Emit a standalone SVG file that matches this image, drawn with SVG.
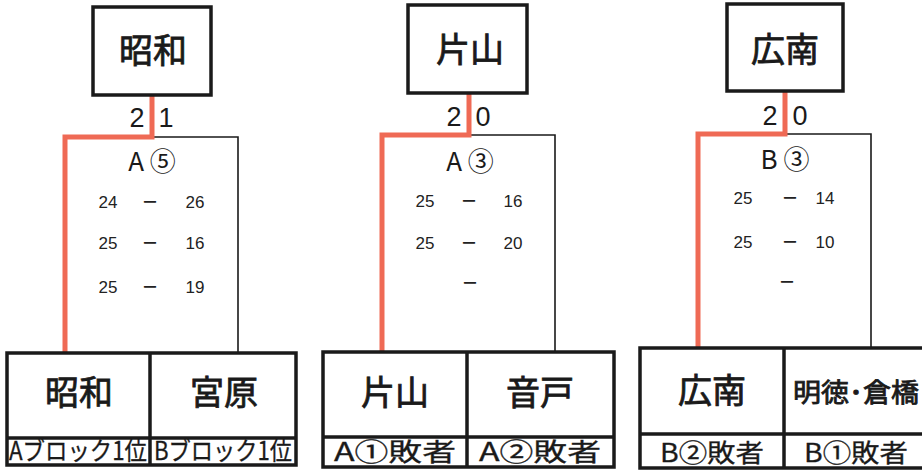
<svg xmlns="http://www.w3.org/2000/svg" width="922" height="473" viewBox="0 0 922 473">
<style>
.bg{fill:#ffffff}
.box{fill:none;stroke:#1a1a1a;stroke-width:3.5}
.thin{fill:none;stroke:#1a1a1a;stroke-width:1.6}
.red{fill:none;stroke:#ef6a55;stroke-width:5;stroke-linejoin:miter}
.name{font-family:"Noto Sans CJK JP","Noto Sans CJK SC",sans-serif;font-size:34px;fill:#1a1a1a;stroke:#1a1a1a;stroke-width:0.8;text-anchor:middle}
.sub{font-family:"Noto Sans CJK JP","Noto Sans CJK SC",sans-serif;font-size:25px;fill:#1a1a1a;stroke:#1a1a1a;stroke-width:0.3;text-anchor:middle}
.score{font-family:"Liberation Sans",Arial,sans-serif;font-size:27px;fill:#1a1a1a;text-anchor:middle}
.pool{font-family:"Noto Sans CJK JP","Noto Sans CJK SC",sans-serif;font-size:26px;fill:#1a1a1a;text-anchor:middle}
.set{font-family:"Liberation Sans",Arial,sans-serif;font-size:17px;fill:#222;text-anchor:middle}
.dash{font-family:"Noto Sans CJK JP",sans-serif;font-size:17px;font-weight:bold;fill:#222;text-anchor:middle}
</style>
<rect class="bg" x="0" y="0" width="922" height="473"/>

<g id="connectors">
  <path class="thin" d="M152,137 H238 V352"/>
  <path class="thin" d="M469,135 H555 V352"/>
  <path class="thin" d="M785,134 H871 V349"/>
  <path class="red" d="M152,95 V137 H65 V353"/>
  <path class="red" d="M469,93 V135 H382 V352"/>
  <path class="red" d="M785,91 V134 H698 V349"/>
</g>

<g id="winner-showa">
  <rect class="box" x="93" y="7" width="118" height="88"/>
  <text class="name" x="153" y="63">昭和</text>
</g>
<g id="winner-katayama">
  <rect class="box" x="408" y="5" width="119" height="88"/>
  <text class="name" x="470" y="62">片山</text>
</g>
<g id="winner-konan">
  <rect class="box" x="727" y="4" width="116" height="87"/>
  <text class="name" x="785" y="62">広南</text>
</g>

<g id="match-a5">
  <text class="score" x="137" y="127">2</text>
  <text class="score" x="166" y="127">1</text>
  <text class="pool" x="152" y="171">A ⑤</text>
  <text class="set" x="108" y="208">24</text><text class="dash" x="150" y="208">－</text><text class="set" x="195" y="208">26</text>
  <text class="set" x="108" y="249">25</text><text class="dash" x="150" y="249">－</text><text class="set" x="195" y="249">16</text>
  <text class="set" x="108" y="293">25</text><text class="dash" x="150" y="293">－</text><text class="set" x="195" y="293">19</text>
</g>
<g id="match-a3">
  <text class="score" x="454" y="126">2</text>
  <text class="score" x="483" y="126">0</text>
  <text class="pool" x="470" y="171">A ③</text>
  <text class="set" x="425" y="207">25</text><text class="dash" x="469" y="207">－</text><text class="set" x="513" y="207">16</text>
  <text class="set" x="425" y="249">25</text><text class="dash" x="469" y="249">－</text><text class="set" x="513" y="249">20</text>
  <text class="dash" x="470" y="289">－</text>
</g>
<g id="match-b3">
  <text class="score" x="770" y="125">2</text>
  <text class="score" x="800" y="125">0</text>
  <text class="pool" x="785" y="169">B ③</text>
  <text class="set" x="743" y="204">25</text><text class="dash" x="790" y="204">－</text><text class="set" x="825" y="204">14</text>
  <text class="set" x="743" y="248">25</text><text class="dash" x="790" y="248">－</text><text class="set" x="825" y="248">10</text>
  <text class="dash" x="787" y="288">－</text>
</g>

<g id="pair-left">
  <rect class="box" x="7" y="353" width="289" height="112"/>
  <line class="box" x1="150" y1="353" x2="150" y2="465"/>
  <line class="box" x1="7" y1="438" x2="296" y2="438"/>
  <text class="name" x="79" y="405">昭和</text>
  <text class="name" x="224" y="405">宮原</text>
  <text class="sub" x="78" y="460" textLength="138" lengthAdjust="spacingAndGlyphs">Aブロック1位</text>
  <text class="sub" x="223" y="460" textLength="138" lengthAdjust="spacingAndGlyphs">Bブロック1位</text>
</g>
<g id="pair-middle">
  <rect class="box" x="323" y="352" width="291" height="115"/>
  <line class="box" x1="467" y1="352" x2="467" y2="467"/>
  <line class="box" x1="323" y1="437" x2="614" y2="437"/>
  <text class="name" x="395" y="405">片山</text>
  <text class="name" x="540" y="405">音戸</text>
  <text class="sub" x="395" y="461" textLength="122" lengthAdjust="spacingAndGlyphs">A①敗者</text>
  <text class="sub" x="540" y="461" textLength="122" lengthAdjust="spacingAndGlyphs">A②敗者</text>
</g>
<g id="pair-right">
  <rect class="box" x="640" y="348" width="290" height="120"/>
  <line class="box" x1="784" y1="348" x2="784" y2="468"/>
  <line class="box" x1="640" y1="434" x2="930" y2="434"/>
  <text class="name" x="712" y="403">広南</text>
  <text class="name" x="793" y="402" style="text-anchor:start;font-size:26px" textLength="126" lengthAdjust="spacingAndGlyphs">明徳･倉橋</text>
  <text class="sub" x="712" y="462" textLength="104" lengthAdjust="spacingAndGlyphs">B②敗者</text>
  <text class="sub" x="856" y="462" textLength="104" lengthAdjust="spacingAndGlyphs">B①敗者</text>
</g>
</svg>
